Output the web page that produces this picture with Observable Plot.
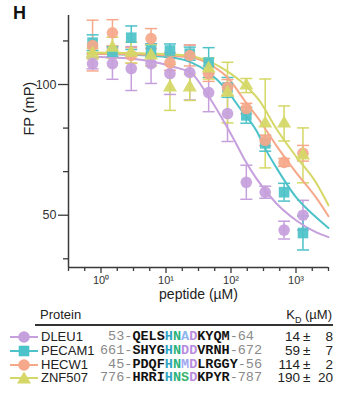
<!DOCTYPE html>
<html><head><meta charset="utf-8">
<script src="https://cdn.jsdelivr.net/npm/d3@7"></script>
<script src="https://cdn.jsdelivr.net/npm/@observablehq/plot@0.6"></script>
<style>
body{margin:0;background:#fff;font-family:"Liberation Sans",Arial,Helvetica,sans-serif;color:#222;}
#wrap{position:relative;width:337px;height:395px;overflow:hidden;}
#wrap svg{position:absolute;left:0;top:0;}
.abs{position:absolute;white-space:pre;line-height:16px;}
.seq{font-family:"Liberation Mono","DejaVu Sans Mono",monospace;font-size:13.5px;}
.num{color:#8a8a8a;}
.res{font-weight:bold;color:#111;}
</style></head><body><div id="wrap"></div>
<script>
// ---------- data ----------
const proteins = ["DLEU1","PECAM1","HECW1","ZNF507"];
const colors   = ["#c6a0dc","#4cc2c9","#f6a88a","#d5d866"];
const symbols  = ["circle","square","circle","triangle"];
const conc = [0.742,1.50,2.92,5.89,11.5,23.2,45.3,88.4,172,336,656,1280]; // µM

const fpDLEU1  = [108.0,108.0,106.1,108.0,104.2,104.6,96.9,88.9,62.6,58.8,44.3,50.0];
const sdDLEU1  = [2.0,6.0,8.4,7.6,8.0,10.5,7.3,10.7,6.5,2.3,3.4,5.7];
const fpPECAM1 = [116.0,112.6,117.9,113.0,113.0,111.8,108.4,98.9,88.2,77.5,58.8,43.2];
const sdPECAM1 = [3.0,2.0,4.5,2.5,2.5,2.5,5.7,3.8,3.0,3.0,3.4,6.5];
const fpHECW1  = [114.9,119.8,111.1,117.6,108.4,111.1,104.2,98.9,90.8,78.6,70.2,73.7];
const sdHECW1  = [9.7,5.0,3.0,3.8,3.0,4.0,3.0,3.0,2.0,2.0,1.5,3.0];
const fpZNF507 = [111.8,114.1,112.2,111.1,98.9,98.9,106.1,96.9,99.6,85.1,85.1,72.9];
const sdZNF507 = [2.0,4.0,4.0,4.0,8.8,5.0,4.0,11.6,2.7,17.0,6.7,10.5];

// fitted curves
const fitDLEU1x  = [0.62,1.5,3.03,6.11,12.35,24.9,39.4,71.6,113,155,245,496,1000,2018,3160];
const fitDLEU1y  = [110.7,110.3,109.9,108.8,106.9,104.2,97.7,87.4,78.6,72.1,64.1,54.6,48.1,43.5,41.6];
const fitPECAM1x = [0.62,3.03,12.35,24.9,45.3,79.6,145,245,348,496,1000,2018,3160];
const fitPECAM1y = [111.8,111.4,110.3,108.4,104.6,98.9,90.1,82.4,74.8,68.3,56.9,49.3,45.1];
const fitHECW1x  = [0.62,6.11,24.9,50.4,91.6,161,263,374,496,1000,2018,3160];
const fitHECW1y  = [111.8,111.4,110.3,107.2,102.3,93.9,87.0,81.3,76.7,66.4,56.9,49.6];
const fitZNF507x = [0.62,6.11,20.9,39.4,79.6,161,272,496,1000,2018,3160];
const fitZNF507y = [112.2,111.8,111.1,109.5,105.7,100.0,93.9,83.2,72.5,62.6,53.8];

const xDomain = [0.3162, 3162];
const yDomain = [30, 126.4];
const xMajor = [1,10,100,1000];
const xMajorLabels = ["10\u2070","10\u00b9","10\u00b2","10\u00b3"];
const xMinor = [0.3162,0.5623,1.778,3.162,5.623,17.78,31.62,56.23,177.8,316.2,562.3,1778,3162];
const yMajor = [50,100];
const yMinor = [33.33,66.67,83.33,116.67];

// table
const seqStart = ["53","661","45","776"];
const seqEnd   = ["64","672","56","787"];
const seqPre   = ["QELS","SHYG","PDQF","HRRI"];
const seqMotif = ["HNAD","HNDD","HNMD","HNSD"];
const seqPost  = ["KYQM","VRNH","LRGGY","KPYR"];
const kd    = ["14","59","114","190"];
const kdErr = ["8","7","2","20"];
const residueColor = {H:"#2fa4c4",N:"#2db27c",A:"#8db6ee",D:"#b88de0",M:"#a2a8f0",S:"#3cb46c"};

// ---------- build ----------
const means = [fpDLEU1,fpPECAM1,fpHECW1,fpZNF507];
const sds = [sdDLEU1,sdPECAM1,sdHECW1,sdZNF507];
const fitsX = [fitDLEU1x,fitPECAM1x,fitHECW1x,fitZNF507x];
const fitsY = [fitDLEU1y,fitPECAM1y,fitHECW1y,fitZNF507y];

const rows = [];
proteins.forEach((p,i)=>conc.forEach((c,j)=>rows.push({protein:p,c,fp:means[i][j],sd:sds[i][j]})));
const fits = [];
proteins.forEach((p,i)=>fitsX[i].forEach((c,j)=>fits.push({protein:p,c,fp:fitsY[i][j]})));

const cap = {draw(ctx){ctx.moveTo(-6,0);ctx.lineTo(6,0);}};
const axisColor = "#3a3a3a";
const dotR = {circle:5.8, square:6, triangle:5.2};

const dotMarks = proteins.map((p,i)=>Plot.dot(rows.filter(d=>d.protein===p),{
  x:"c", y:"fp", fill:colors[i], symbol:symbols[i], r:dotR[symbols[i]], fillOpacity:0.92
}));

const chart = Plot.plot({
  width:337, height:305,
  marginTop:15, marginBottom:38, marginLeft:68, marginRight:9,
  style:{fontFamily:'"Liberation Sans",Arial,sans-serif', background:"transparent"},
  x:{type:"log", domain:xDomain, axis:null},
  y:{domain:yDomain, axis:null},
  color:{domain:proteins, range:colors},
  marks:[
    Plot.ruleX(rows,{x:"c", y1:d=>d.fp-d.sd, y2:d=>d.fp+d.sd, stroke:"protein", strokeWidth:1.5}),
    Plot.dot(rows,{x:"c", y:d=>d.fp+d.sd, symbol:cap, stroke:"protein", strokeWidth:1.5, fill:"none"}),
    Plot.dot(rows,{x:"c", y:d=>d.fp-d.sd, symbol:cap, stroke:"protein", strokeWidth:1.5, fill:"none"}),
    Plot.line(fits,{x:"c", y:"fp", z:"protein", stroke:"protein", strokeWidth:2, curve:"monotone-x"}),
    ...dotMarks,
    Plot.ruleY([yDomain[0]],{stroke:axisColor, strokeWidth:1.5}),
    Plot.ruleX([xDomain[0]],{stroke:axisColor, strokeWidth:1.5}),
    Plot.axisY({ticks:yMajor, label:null, tickSize:10, tickPadding:2, fontSize:12.5, stroke:axisColor, strokeWidth:1.3, color:"#333"}),
    Plot.axisY({ticks:yMinor, label:null, tickSize:5, tickFormat:()=>"", stroke:axisColor, strokeWidth:1.3}),
    Plot.axisX({ticks:xMajor, label:null, tickSize:6, tickPadding:3, fontSize:11, tickFormat:d=>xMajorLabels[xMajor.indexOf(d)], stroke:axisColor, strokeWidth:1.3, color:"#333"}),
    Plot.axisX({ticks:xMinor, label:null, tickSize:4, tickFormat:()=>"", stroke:axisColor, strokeWidth:1.3}),
    Plot.text(["peptide (\u00b5M)"],{frameAnchor:"bottom", dy:31, fontSize:14, fill:"#222"}),
    Plot.text(["FP (mP)"],{frameAnchor:"left", dx:-39, dy:-6, rotate:-90, fontSize:14.5, fill:"#222"})
  ]
});
const wrap = document.getElementById("wrap");
wrap.appendChild(chart);

// panel letter
let html = `<div class="abs" style="left:13px;top:3px;font-weight:bold;font-size:18px;line-height:20px;color:#111">H</div>`;
// header
html += `<div class="abs" style="left:40px;top:307px;font-size:13px">Protein</div>`;
html += `<div class="abs" style="right:5px;top:307px;font-size:13px">K<sub style="font-size:9px">D</sub> (\u00b5M)</div>`;
html += `<div style="position:absolute;left:35px;top:324px;width:298px;height:2px;background:#333"></div>`;
const rowY = [337,351,364.5,378];
proteins.forEach((p,i)=>{
  const t = rowY[i]-8;
  let glyph = `<svg width="30" height="16" style="position:absolute;left:10px;top:${t}px;overflow:visible">
    <line x1="0" x2="28" y1="8" y2="8" stroke="${colors[i]}" stroke-width="2"/>`;
  if(symbols[i]==="circle") glyph += `<circle cx="14" cy="8" r="5.8" fill="${colors[i]}"/>`;
  else if(symbols[i]==="square") glyph += `<rect x="8.7" y="2.7" width="10.6" height="10.6" fill="${colors[i]}"/>`;
  else glyph += `<path d="M14,1.5L21,13.5L7,13.5Z" fill="${colors[i]}"/>`;
  glyph += `</svg>`;
  html += glyph;
  html += `<div class="abs" style="left:41px;top:${t}px;font-size:13px;color:#222">${p}</div>`;
  const motif = seqMotif[i].split("").map(ch=>`<span style="color:${residueColor[ch]}">${ch}</span>`).join("");
  const pad = seqStart[i].length<3 ? " " : "";
  html += `<div class="abs seq" style="left:100px;top:${t}px"><span class="num">${pad}${seqStart[i]}-</span><span class="res">${seqPre[i]}${motif}${seqPost[i]}</span><span class="num">-${seqEnd[i]}</span></div>`;
  html += `<div class="abs" style="right:37px;top:${t}px;font-size:13.5px">${kd[i]}</div>`;
  html += `<div class="abs" style="left:303px;top:${t}px;font-size:13.5px">\u00b1</div>`;
  html += `<div class="abs" style="right:4px;top:${t}px;font-size:13.5px">${kdErr[i]}</div>`;
});
const overlay = document.createElement("div");
overlay.innerHTML = html;
while(overlay.firstChild) wrap.appendChild(overlay.firstChild);
</script>
</body></html>
